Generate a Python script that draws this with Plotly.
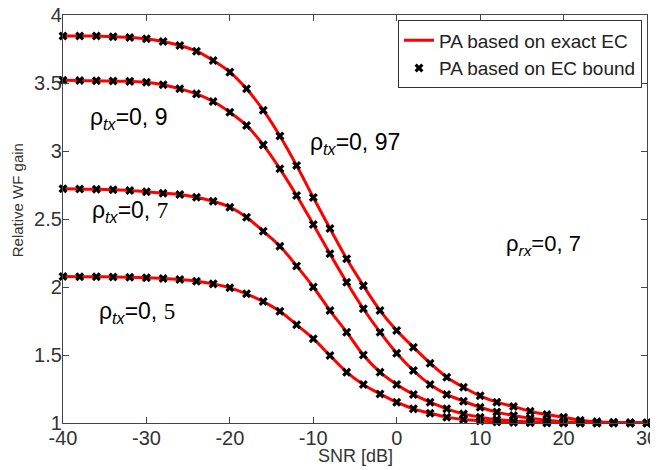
import plotly.graph_objects as go

snr = list(range(-40, 31, 2))

gain_097 = [3.845, 3.845, 3.845, 3.84, 3.835, 3.825, 3.805, 3.776, 3.734, 3.665,
            3.58, 3.457, 3.30, 3.11, 2.893, 2.658, 2.43, 2.207, 2.01, 1.827,
            1.68, 1.557, 1.44, 1.337, 1.263, 1.20, 1.153, 1.121, 1.087, 1.062,
            1.043, 1.02, 1.01, 1.005, 1.002, 1.0]
gain_09 = [3.52, 3.518, 3.516, 3.514, 3.512, 3.506, 3.487, 3.457, 3.42, 3.364,
           3.285, 3.188, 3.045, 2.869, 2.673, 2.46, 2.244, 2.035, 1.84, 1.668,
           1.513, 1.386, 1.283, 1.21, 1.16, 1.116, 1.08, 1.055, 1.035, 1.02,
           1.01, 1.005, 1.002, 1.0, 1.0, 1.0]
gain_07 = [2.722, 2.72, 2.718, 2.715, 2.71, 2.70, 2.69, 2.68, 2.66, 2.63,
           2.587, 2.513, 2.41, 2.30, 2.155, 2.0, 1.827, 1.668, 1.50, 1.374,
           1.283, 1.21, 1.153, 1.104, 1.067, 1.043, 1.025, 1.015, 1.008, 1.004,
           1.002, 1.0, 1.0, 1.0, 1.0, 1.0]
gain_05 = [2.077, 2.076, 2.075, 2.074, 2.072, 2.068, 2.063, 2.055, 2.043, 2.023,
           1.994, 1.95, 1.893, 1.822, 1.722, 1.62, 1.496, 1.374, 1.283, 1.214,
           1.153, 1.104, 1.072, 1.043, 1.025, 1.015, 1.008, 1.004, 1.002, 1.0,
           1.0, 1.0, 1.0, 1.0, 1.0, 1.0]

series = [gain_097, gain_09, gain_07, gain_05]
legend_names = ["PA based on exact EC", "PA based on EC bound"]

x_ticks = [-40, -30, -20, -10, 0, 10, 20, 30]
y_ticks = [1, 1.5, 2, 2.5, 3, 3.5, 4]
y_ticktext = ["1", "1.5", "2", "2.5", "3", "3.5", "4"]

FONT = "Liberation Sans, Arial, sans-serif"

fig = go.Figure()
for i, ys in enumerate(series):
    fig.add_trace(go.Scatter(
        x=snr, y=ys, mode="lines", line=dict(color="#ff0000", width=3, shape="spline"),
        name=legend_names[0], showlegend=(i == 0), cliponaxis=False))
for i, ys in enumerate(series):
    fig.add_trace(go.Scatter(
        x=snr, y=ys, mode="markers",
        marker=dict(symbol="x", size=8, color="black", line=dict(width=0)),
        name=legend_names[1], showlegend=(i == 0), cliponaxis=False))

serif7 = "<span style='font-family:Liberation Serif, Times New Roman, serif'>7</span>"
serif5 = "<span style='font-family:Liberation Serif, Times New Roman, serif'>5</span>"
labels = [
    (-37.0, 3.24, "ρ<sub><i>tx</i></sub>=0, 9", 23),
    (-10.6, 3.055, "ρ<sub><i>tx</i></sub>=0, 97", 23),
    (-36.8, 2.555, "ρ<sub><i>tx</i></sub>=0, " + serif7, 23),
    (-35.9, 1.815, "ρ<sub><i>tx</i></sub>=0, " + serif5, 23),
    (12.8, 2.31, "ρ<sub><i>rx</i></sub>=0, 7", 22),
]
for x, y, t, s in labels:
    fig.add_annotation(x=x, y=y, xref="x", yref="y", text=t, showarrow=False,
                       xanchor="left", yanchor="middle",
                       font=dict(family=FONT, size=s, color="black"))

# axis titles (positions relative to the plot area: 584 x 408.5 px)
fig.add_annotation(x=(355 - 63) / 584, y=-(456 - 423) / 408.5, xref="paper", yref="paper",
                   text="SNR [dB]", showarrow=False, xanchor="center", yanchor="middle",
                   font=dict(family=FONT, size=18, color="#333"))
fig.add_annotation(x=(17 - 63) / 584, y=(423 - 200) / 408.5, xref="paper", yref="paper",
                   text="Relative WF gain", showarrow=False, textangle=-90,
                   xanchor="center", yanchor="middle",
                   font=dict(family=FONT, size=15, color="#333"))

axis_common = dict(showline=True, linecolor="#444", linewidth=1.2, mirror="ticks",
                   ticks="inside", ticklen=6, tickcolor="#444", showgrid=False,
                   zeroline=False, automargin=False, ticklabeloverflow="allow",
                   tickfont=dict(family=FONT, size=20, color="#333"))

fig.update_layout(
    width=658, height=470,
    margin=dict(l=55, r=19, t=6.5, b=55, autoexpand=False),
    paper_bgcolor="white", plot_bgcolor="white",
    showlegend=True,
    legend=dict(x=(642 - 63) / 584, y=1 - (20 - 14.5) / 408.5, xanchor="right", yanchor="top",
                bordercolor="#333", borderwidth=1, bgcolor="white",
                font=dict(family=FONT, size=19, color="#222"),
                tracegroupgap=0, itemwidth=30),
    xaxis=dict(range=[-40, 30], tickvals=x_ticks, ticktext=[str(v) for v in x_ticks],
               ticklabelstandoff=-3, **axis_common),
    yaxis=dict(range=[1, 4], tickvals=y_ticks, ticktext=y_ticktext,
               ticklabelstandoff=-4, **axis_common),
)

fig.write_html("out.html")
